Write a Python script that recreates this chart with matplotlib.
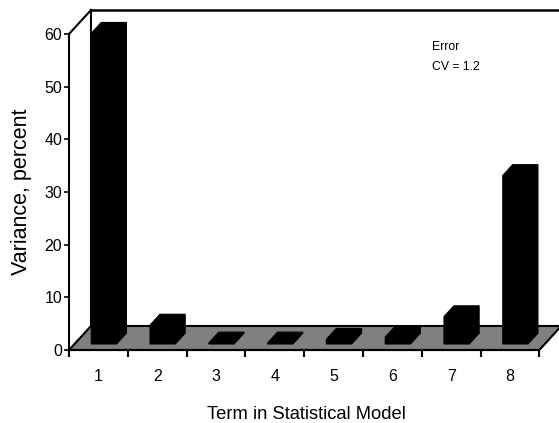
import matplotlib
matplotlib.use("Agg")
import matplotlib.pyplot as plt
from matplotlib.patches import Polygon
from matplotlib.lines import Line2D
import numpy as np

# ---- data ----
categories = ["1", "2", "3", "4", "5", "6", "7", "8"]
values = [59, 3.6, 0.2, 0.2, 0.9, 1.3, 5.2, 32]
yticks = [0, 10, 20, 30, 40, 50, 60]
ylabel = "Variance, percent"
xlabel = "Term in Statistical Model"
note_lines = ["Error", "CV = 1.2"]

W, H = 559, 423
DPI = 100
fig = plt.figure(figsize=(W / DPI, H / DPI), dpi=DPI)
fig.patch.set_facecolor("white")

REG = ["Liberation Sans", "DejaVu Sans"]

# axes: front plane of the 3D box
L, R, B, T = 69, 539.3, 350, 34
ax = fig.add_axes([L / W, 1 - B / H, (R - L) / W, (B - T) / H])
ax.set_xlim(0, len(categories))
ax.set_ylim(0, 60)
ax.patch.set_alpha(0)
for s in ["top", "right"]:
    ax.spines[s].set_visible(False)
ax.spines["left"].set_linewidth(1.5)
ax.spines["bottom"].set_linewidth(1.5)
ax.spines["left"].set_zorder(5)
ax.spines["bottom"].set_zorder(5)

# depth vector (pixels) converted into data units via the axes scale
fig.canvas.draw()
p0 = ax.transData.transform((0, 0))
p1 = ax.transData.transform((1, 10))
px_x = p1[0] - p0[0]
px_y = (p1[1] - p0[1]) / 10.0
DX = 22 / px_x
DY = 24 / px_y

def pt(x, y, f):
    return (x + DX * f, y + DY * f)

n = len(categories)
# floor
floor = Polygon([pt(0, 0, 0), pt(n, 0, 0), pt(n, 0, 1), pt(0, 0, 1)],
                closed=True, facecolor="#808080", edgecolor="black",
                linewidth=1.5, clip_on=False, zorder=1)
ax.add_patch(floor)
# back wall & left wall edges
ax.add_line(Line2D([pt(0, 0, 1)[0], pt(0, 60, 1)[0]], [pt(0, 0, 1)[1], pt(0, 60, 1)[1]],
                   color="black", lw=1.5, clip_on=False, zorder=1))
ax.add_line(Line2D([pt(0, 60, 1)[0], pt(n, 60, 1)[0]], [pt(0, 60, 1)[1], pt(n, 60, 1)[1]],
                   color="black", lw=1.8, clip_on=False, zorder=1))
ax.add_line(Line2D([pt(0, 60, 0)[0], pt(0, 60, 1)[0]], [pt(0, 60, 0)[1], pt(0, 60, 1)[1]],
                   color="black", lw=1.5, clip_on=False, zorder=1))

# bars
hw = 0.215
fa, fb = 0.25, 0.70
for i, v in enumerate(values):
    c = i + 0.5
    x0, x1 = c - hw, c + hw
    verts = [pt(x0, 0, fa), pt(x0, v, fa), pt(x0, v, fb), pt(x1, v, fb),
             pt(x1, 0, fb), pt(x1, 0, fa)]
    ax.add_patch(Polygon(verts, closed=True, facecolor="black", edgecolor="black",
                         linewidth=0.8, clip_on=False, zorder=3))

# ticks
ax.set_yticks(yticks)
ax.set_yticklabels([str(t) for t in yticks], family=REG, fontsize=11.5)
ax.tick_params(axis="y", direction="out", length=3.5, width=1.2, pad=1.5)
ax.set_xticks(np.arange(0, n + 1))
ax.set_xticklabels([])
ax.tick_params(axis="x", which="major", direction="out", length=5, width=1.5)
ax.set_xticks(np.arange(n) + 0.5, minor=True)
ax.set_xticklabels(categories, minor=True, family=REG, fontsize=11.5)
ax.tick_params(axis="x", which="minor", length=0, pad=14)

# labels
fig.text(21 / W, 1 - 192 / H, ylabel, rotation=90, ha="center", va="center",
         family=REG, fontsize=15.5)
fig.text(306 / W, 1 - 419 / H, xlabel, ha="center", va="baseline",
         family=REG, fontsize=13.2)
fig.text(431.7 / W, 1 - 46.7 / H, note_lines[0], ha="left", va="center",
         family=REG, fontsize=8.8)
fig.text(431.7 / W, 1 - 66.7 / H, note_lines[1], ha="left", va="center",
         family=REG, fontsize=8.8)

fig.savefig("out.png", dpi=DPI)
